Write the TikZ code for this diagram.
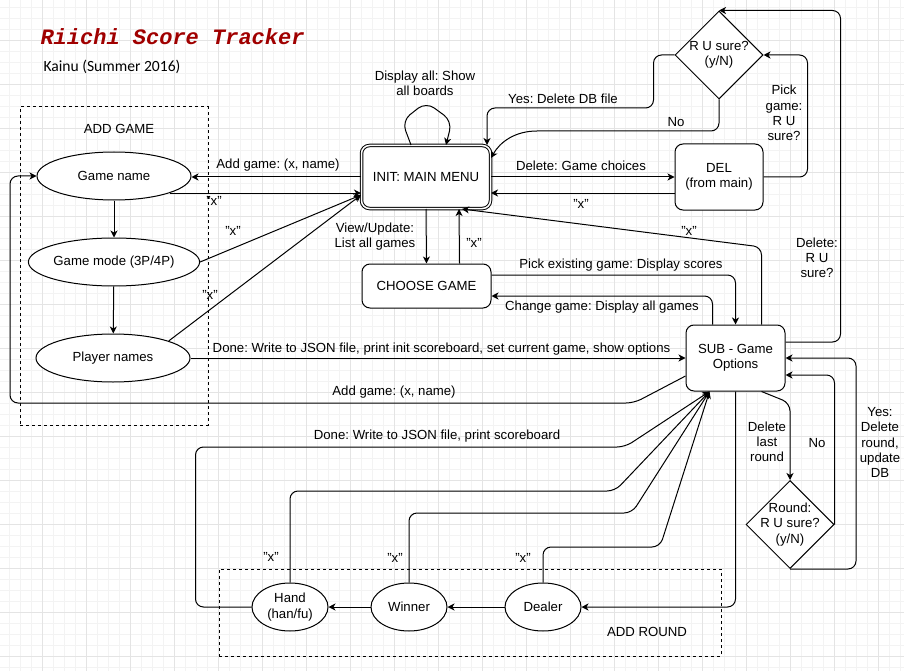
\documentclass[tikz,border=0pt]{standalone}
\usepackage{fontspec}
\setmainfont{Liberation Sans}
\newfontfamily\titlefont{Liberation Mono}
\newfontfamily\subtitlefont{Carlito}
\usetikzlibrary{arrows.meta}
\usetikzlibrary{shapes.geometric}
\definecolor{titlered}{HTML}{A00000}
\definecolor{gridmajor}{HTML}{E4E4E4}
\definecolor{gridminor}{HTML}{F3F3F3}
\frenchspacing

\begin{document}
\begin{tikzpicture}[x=1pt,y=-1pt,>={Stealth[length=7pt,width=7pt,inset=2pt]},line width=1pt,
  font=\fontsize{13.2}{15.2}\selectfont,
  oval/.style={ellipse,draw,fill=white,align=center,inner sep=0pt,minimum width=154pt,minimum height=48pt},
  smalloval/.style={oval,minimum width=76pt},
  panel/.style={rectangle,rounded corners=8pt,draw,fill=white,align=center,inner sep=0pt},
  query/.style={diamond,draw,fill=white,inner sep=0pt,minimum width=88pt,minimum height=88pt},
  groupbox/.style={draw,dash pattern=on 3pt off 3pt,inner sep=0pt},
  edgetag/.style={align=center,inner sep=0pt},
  link/.style={->,rounded corners=8pt}]
  \useasboundingbox (0,0) rectangle (904,671);
  % background grid
  \foreach \k in {0,...,81} \draw[gridminor,line width=0.6pt] (9.3+11*\k,0) -- (9.3+11*\k,671);
  \foreach \k in {0,...,60} \draw[gridminor,line width=0.6pt] (0,7.3+11*\k) -- (904,7.3+11*\k);
  \foreach \k in {0,...,20} \draw[gridmajor,line width=0.6pt] (-1.7+44*\k,0) -- (-1.7+44*\k,671);
  \foreach \k in {0,...,15} \draw[gridmajor,line width=0.6pt] (0,-3.7+44*\k) -- (904,-3.7+44*\k);
  %
  \node[anchor=west,inner sep=0pt,text=titlered,font=\titlefont\fontsize{22}{24}\selectfont\bfseries\itshape] (title) at (40,37) {Riichi Score Tracker};
  \node[anchor=west,inner sep=0pt,font=\subtitlefont\fontsize{15.6}{18}\selectfont] (author) at (43,67) {Kainu (Summer 2016)};
  %
  \node[groupbox,minimum width=188pt,minimum height=318pt] (addgame) at (114,266) {};
  \node[edgetag] (addgametitle) at (119,129) {ADD GAME};
  \node[groupbox,minimum width=502pt,minimum height=87pt] (addround) at (470,612.5) {};
  \node[edgetag] (addroundtitle) at (647,632) {ADD ROUND};
  %
  \node[oval] (gamename) at (114,176) {Game name};
  \node[oval] (gamemode) at (114,262) {Game mode (3P/4P)};
  \node[oval] (players)  at (113,358) {Player names};
  \node[panel,double,double distance=1.5pt,minimum width=129pt,minimum height=63pt] (menu) at (426,177) {INIT: MAIN MENU};
  \node[panel,minimum width=129pt,minimum height=44pt] (choose) at (426.5,286) {CHOOSE GAME};
  \node[panel,minimum width=88pt,minimum height=66pt]  (del)    at (719,177) {DEL\\(from main)};
  \node[query,label={[edgetag]center:R U sure?\\(y/N)}] (sure) at (719,55) {};
  \node[panel,minimum width=99pt,minimum height=66pt]  (sub)    at (735.5,358) {SUB - Game\\Options};
  \node[query,label={[edgetag]center:Round:\\R U sure?\\(y/N)}] (roundsure) at (790,524.5) {};
  \node[smalloval] (hand)   at (290,607) {Hand\\(han/fu)};
  \node[smalloval] (winner) at (409,607) {Winner};
  \node[smalloval] (dealer) at (543,607) {Dealer};
  %
  % add game
  \draw[link] (menu.west) -- (menu.west -| gamename.east);
  \draw[link] (gamename.-17.5) -- (gamename.-17.5 -| menu.west);
  \draw[link] (gamename) -- (gamemode);
  \draw[link] (gamemode) -- (players);
  \coordinate (menuin) at ([yshift=-18pt]menu.west);
  \draw[link] (gamemode.east) -- (menuin);
  \draw[link] (players.17.5) -- (menuin);
  \draw[link] (players.east) -- (sub.west);
  \draw[link] ([yshift=-18pt]sub.west) -- (634,403) -- (10,403) |- (gamename.west);
  %
  % main menu
  \draw[link,rounded corners=10pt] ([xshift=-15pt]menu.north) -- (402,121) -- (426,102) -- (452,121) -- ([xshift=20pt]menu.north);
  \draw[link] (menu.south) -- (choose.north);
  \draw[link] ([xshift=33pt]choose.north) -- ([xshift=33pt]menu.south);
  \draw[link] (menu.east) -- (del.west);
  \draw[link] ([yshift=-16pt]del.west) -- ([yshift=-16pt]menu.east);
  \draw[link] (del.east) -- ++(44,0) |- (sure.east);
  \draw[link] (sure.west) -- ++(-21,0) -- ++(0,53) -| ([xshift=-4pt]menu.north east);
  \draw[link] (sure.south) |- (545,131) .. controls (515,131) and (500,142) .. ([yshift=-13pt]menu.north east);
  %
  % game options
  \draw[link] ([yshift=16pt]sub.east) -- ++(55,0) |- (sure.north);
  \draw[link] ([xshift=26pt]sub.north) -- (761.5,247) -- ([xshift=36pt]menu.south);
  \draw[link] ([yshift=11pt]choose.east) -| (sub.north);
  \draw[link] ([xshift=-23pt]sub.north) |- ([yshift=-10pt]choose.east);
  \draw[link] ([xshift=26pt]sub.south) -- (roundsure.north |- 0,403) -- (roundsure.north);
  \draw[link] (roundsure.east) |- ([yshift=-17pt]sub.east);
  \draw[link] (roundsure.south) -- ++(66,0) |- (sub.east);
  %
  % add round
  \draw[link] (sub.south) |- (dealer.east);
  \draw[link] (dealer) -- (winner);
  \draw[link] (winner) -- (hand);
  \coordinate (subin) at ([xshift=24pt]sub.south west);
  \draw[link] (hand.west) -- ++(-56,0) |- (625,447) -- (subin);
  \draw[link] (hand.north) |- (615,491) -- (subin);
  \draw[link] (winner.north) |- (632,513) -- (subin);
  \draw[link] (dealer.north) |- (660,547) -- (subin);
  %
  % labels
  \node[edgetag] (t-addtop)   at (278,165) {Add game: (x, name)};
  \node[edgetag] (t-xname)    at (214,201) {"x"};
  \node[edgetag] (t-xmode)    at (233,231) {"x"};
  \node[edgetag] (t-xplayers) at (210,295) {"x"};
  \node[edgetag] (t-done)     at (441.5,349) {Done: Write to JSON file, print init scoreboard, set current game, show options};
  \node[edgetag] (t-addlow)   at (394,392) {Add game: (x, name)};
  \node[edgetag] (t-display)  at (425,83.5) {Display all: Show\\all boards};
  \node[edgetag] (t-view)     at (375,236.5) {View/Update:\\List all games};
  \node[edgetag] (t-xchoose)  at (474,243) {"x"};
  \node[edgetag] (t-yes)      at (563,99) {Yes: Delete DB file};
  \node[edgetag] (t-no)       at (676,122) {No};
  \node[edgetag] (t-delete)   at (581,166) {Delete: Game choices};
  \node[edgetag] (t-xdel)     at (581,204) {"x"};
  \node[edgetag] (t-pick)     at (784,113) {Pick\\game:\\R U\\sure?};
  \node[edgetag] (t-xsub)     at (689,231) {"x"};
  \node[edgetag] (t-delsure)  at (817,258) {Delete:\\R U\\sure?};
  \node[edgetag] (t-existing) at (621,265) {Pick existing game: Display scores};
  \begin{scope}
    \clip (480,290) rectangle (720,312.5);
    \node[edgetag] (t-change) at (602,307) {Change game: Display all games};
  \end{scope}
  \node[edgetag] (t-dellast)  at (767,442) {Delete\\last\\round};
  \node[edgetag] (t-noround)  at (817,443) {No};
  \node[edgetag] (t-yesround) at (880,442.5) {Yes:\\Delete\\round,\\update\\DB};
  \node[edgetag] (t-doneround) at (437,436) {Done: Write to JSON file, print scoreboard};
  \node[edgetag] (t-xhand)    at (271,557) {"x"};
  \node[edgetag] (t-xwinner)  at (395,558) {"x"};
  \node[edgetag] (t-xdealer)  at (523,558) {"x"};
\end{tikzpicture}
\end{document}
